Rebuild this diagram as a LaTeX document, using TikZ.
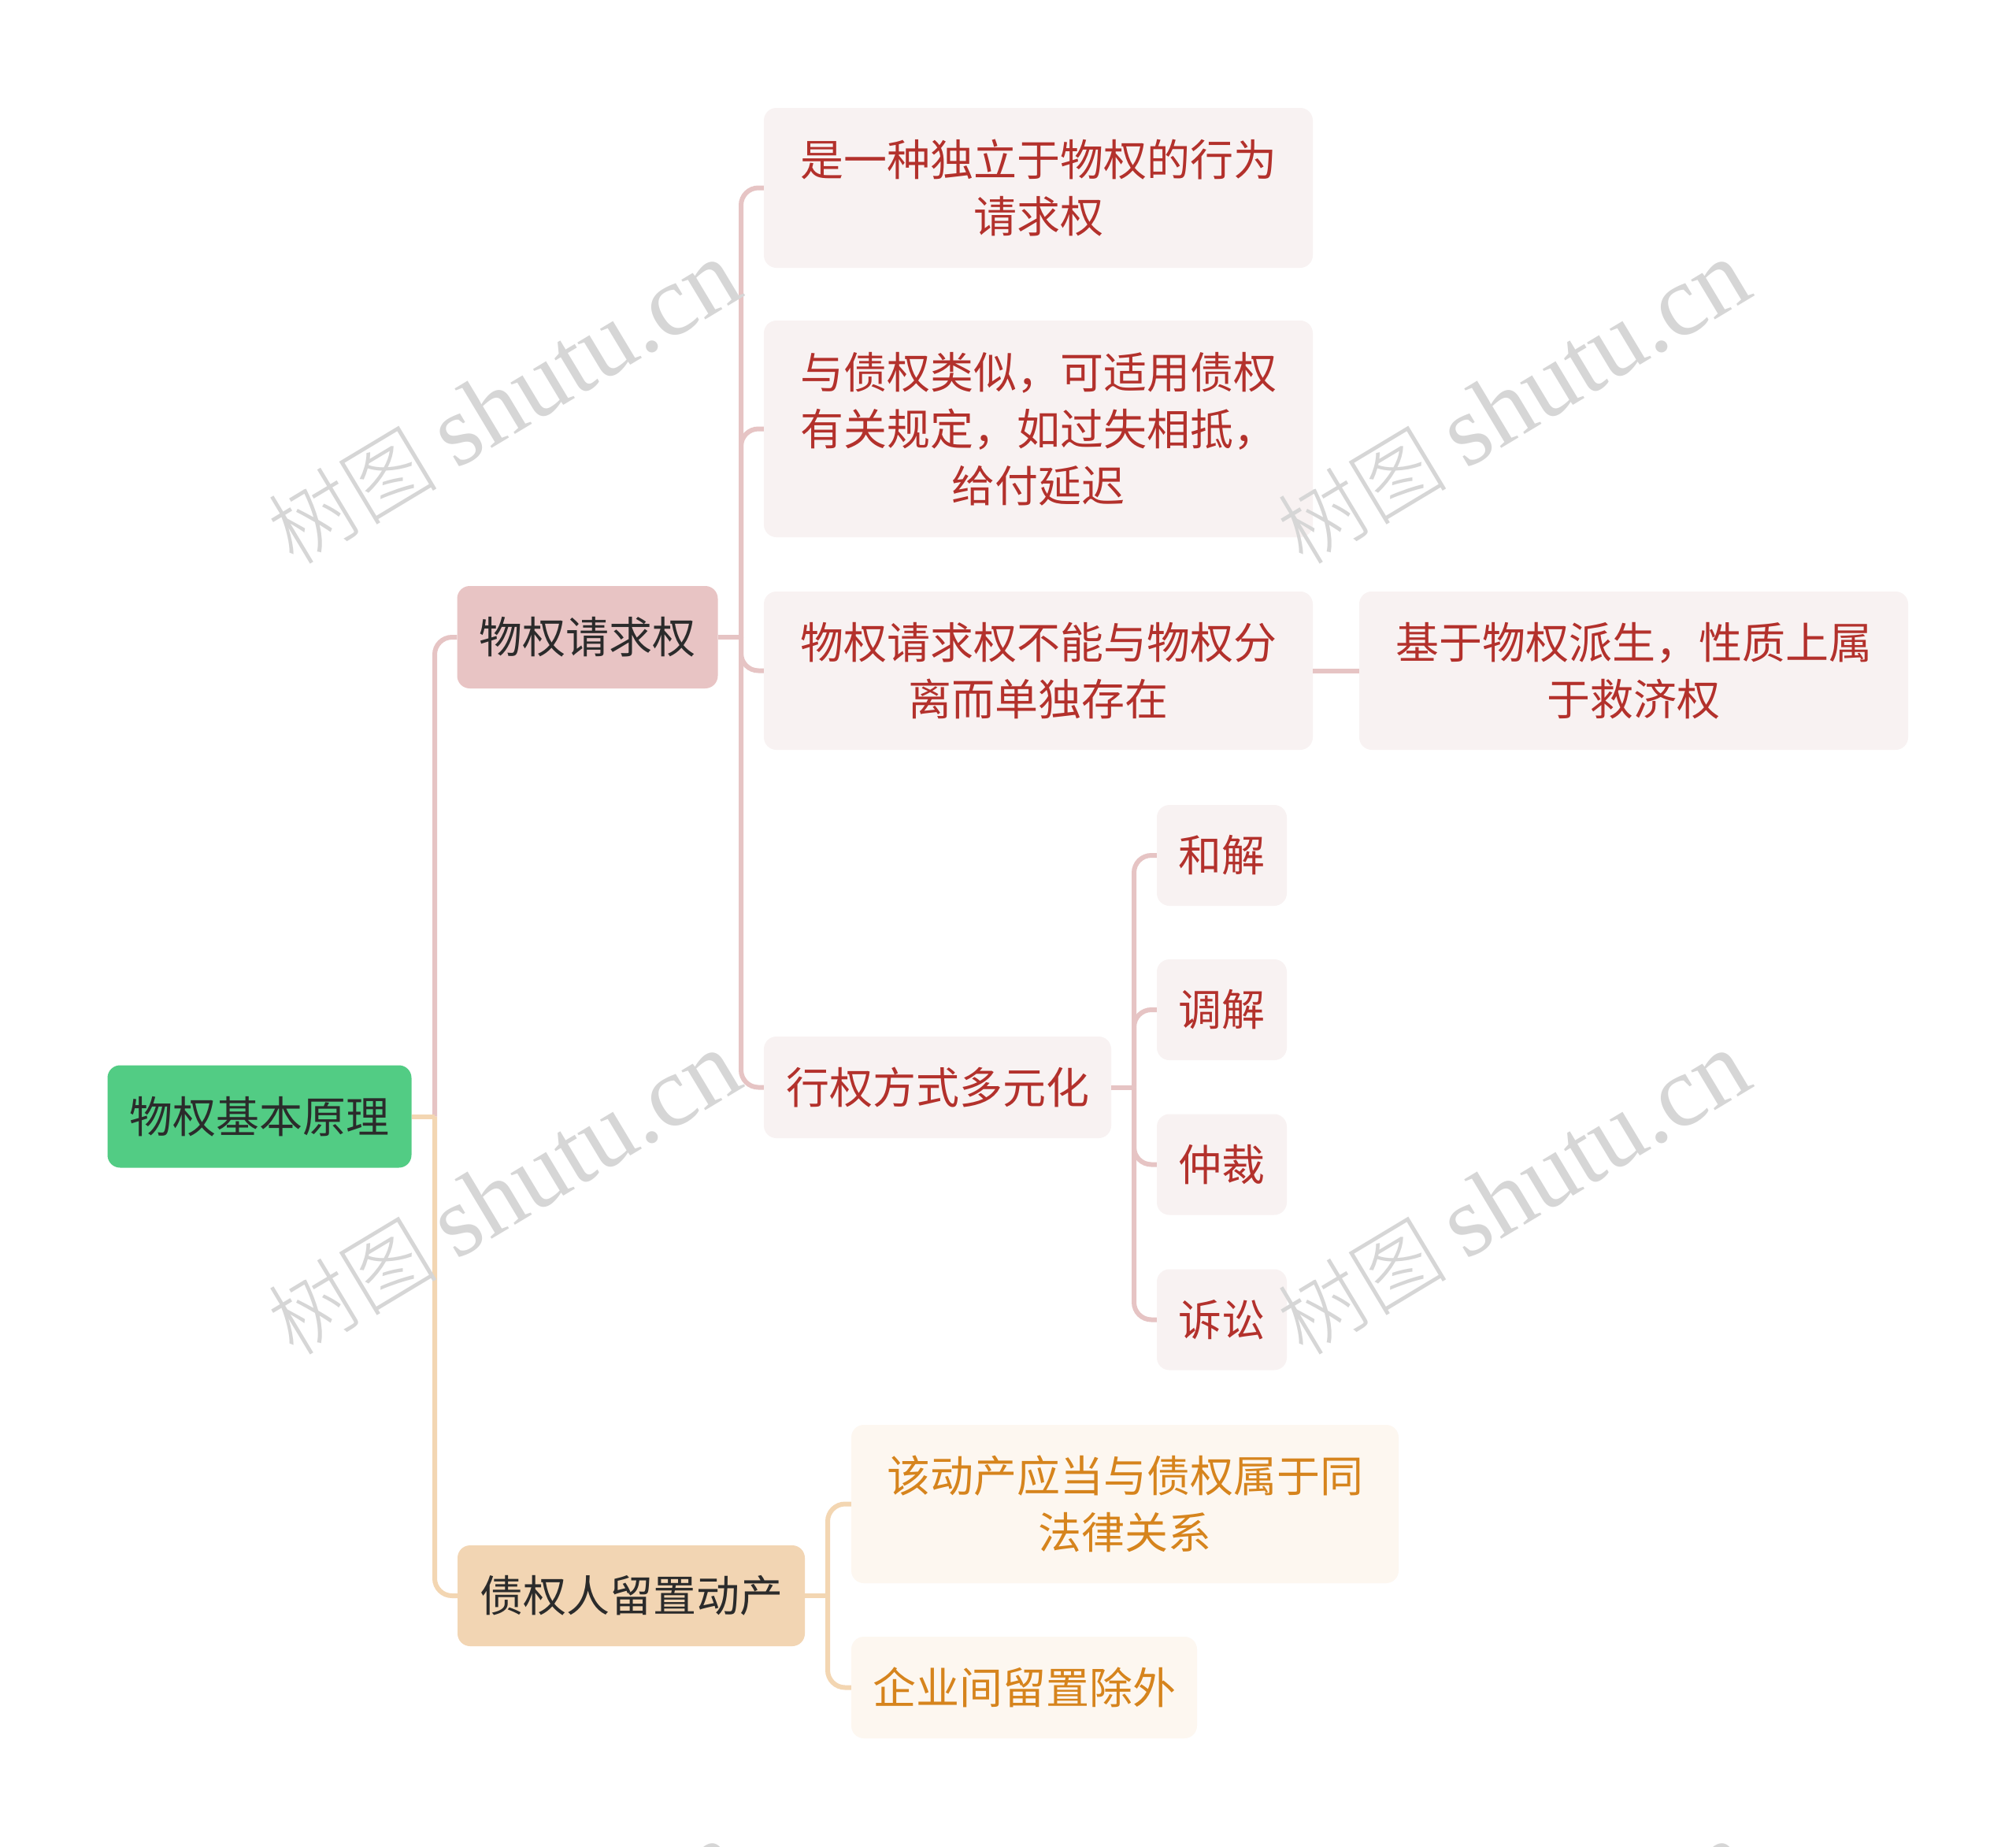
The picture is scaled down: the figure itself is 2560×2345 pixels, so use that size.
\documentclass[tikz,border=0pt]{standalone}
\usepackage{fontspec}
\setmainfont{Noto Sans CJK SC}
\newfontfamily\wmlatin{Liberation Serif}
\newfontfamily\wmcjk{Noto Sans CJK SC Light}
\definecolor{rootfill}{HTML}{52CC84}
\definecolor{darktext}{HTML}{2B2B2B}
\definecolor{pinkfill}{HTML}{E8C4C4}
\definecolor{orangefill}{HTML}{F2D5B3}
\definecolor{pinkleaf}{HTML}{F8F2F2}
\definecolor{orangeleaf}{HTML}{FDF7F0}
\definecolor{pinktext}{HTML}{B3312C}
\definecolor{orangetext}{HTML}{D6841D}
\definecolor{pinkline}{HTML}{E6C4C4}
\definecolor{orangeline}{HTML}{F3D6B2}
\definecolor{wmgray}{HTML}{D6D6D6}
\begin{document}
\begin{tikzpicture}[x=1pt,y=-1pt,
  box/.style={rectangle, rounded corners=16pt, inner sep=0pt, align=center,
    font=\fontsize{55}{72}\selectfont},
  rootbox/.style={box, fill=rootfill, text=darktext},
  pinkmain/.style={box, fill=pinkfill, text=darktext},
  orangemain/.style={box, fill=orangefill, text=darktext},
  pinkbox/.style={box, fill=pinkleaf, text=pinktext},
  orangebox/.style={box, fill=orangeleaf, text=orangetext},
  plink/.style={draw=pinkline, line width=6pt},
  olink/.style={draw=orangeline, line width=6pt},
  wm/.style={text=wmgray, inner sep=0pt, rotate=31}
]
\useasboundingbox (0,0) rectangle (2560,2345);
\fill[white] (0,0) rectangle (2560,2345);

% nodes
\node[rootbox, minimum width=386pt, minimum height=130pt] (root) at (329.5,1417.5) {物权基本原理};
\node[pinkmain, minimum width=331pt, minimum height=130pt] (qq) at (746,809) {物权请求权};
\node[orangemain, minimum width=441pt, minimum height=128pt] (zq) at (801.5,2026) {债权人留置动产};

\node[pinkbox, minimum width=697pt, minimum height=203pt] (a1) at (1318.5,238.5) {是一种独立于物权的行为\\请求权};
\node[pinkbox, minimum width=697pt, minimum height=275pt] (a2) at (1318.5,544.5) {与债权类似，可适用债权\\有关规定，如过失相抵，\\给付延迟};
\node[pinkbox, minimum width=697pt, minimum height=201pt] (a3) at (1318.5,851.5) {物权请求权不能与物权分\\离而单独存在};
\node[pinkbox, minimum width=441pt, minimum height=129pt] (a4) at (1190.5,1380.5) {行权方式多元化};
\node[pinkbox, minimum width=697pt, minimum height=201pt] (b1) at (2074.5,851.5) {基于物权派生，性质上属\\于救济权};

\node[pinkbox, minimum width=165pt, minimum height=128pt] (c1) at (1551.5,1086) {和解};
\node[pinkbox, minimum width=165pt, minimum height=128pt] (c2) at (1551.5,1282) {调解};
\node[pinkbox, minimum width=165pt, minimum height=128pt] (c3) at (1551.5,1478.5) {仲裁};
\node[pinkbox, minimum width=165pt, minimum height=128pt] (c4) at (1551.5,1675.5) {诉讼};

\node[orangebox, minimum width=695pt, minimum height=201pt] (d1) at (1428.5,1909.5) {该动产应当与债权属于同\\法律关系};
\node[orangebox, minimum width=439pt, minimum height=129pt] (d2) at (1300.5,2142.5) {企业间留置除外};

% connectors
\coordinate (j0) at (552,1417.5);
\coordinate (j1) at (941,809);
\coordinate (j2) at (1440,1380.5);
\coordinate (j3) at (1051,2026);

\draw[plink, rounded corners=22pt] (j0) |- (qq.west);
\draw[olink, rounded corners=22pt] (j0) |- (zq.west);
\draw[olink] (root.east) -- (j0);

\draw[plink] (qq.east) -- (j1);
\draw[plink, rounded corners=22pt] (j1) |- (a1.west);
\draw[plink, rounded corners=22pt] (j1) |- (a2.west);
\draw[plink, rounded corners=22pt] (j1) |- (a3.west);
\draw[plink, rounded corners=22pt] (j1) |- (a4.west);

\draw[plink] (a3.east) -- (b1.west);

\draw[plink] (a4.east) -- (j2);
\draw[plink, rounded corners=22pt] (j2) |- (c1.west);
\draw[plink, rounded corners=22pt] (j2) |- (c2.west);
\draw[plink, rounded corners=22pt] (j2) |- (c3.west);
\draw[plink, rounded corners=22pt] (j2) |- (c4.west);

\draw[olink] (zq.east) -- (j3);
\draw[olink, rounded corners=22pt] (j3) |- (d1.west);
\draw[olink, rounded corners=22pt] (j3) |- (d2.west);

% watermarks
\newcommand{\wmtext}{{\wmcjk\fontsize{108}{108}\selectfont 树图}\hspace{24pt}{\wmlatin\fontsize{128}{128}\selectfont shutu.cn}}
\begin{scope}
\clip (0,0) rectangle (2560,2345);
\node[wm] (wm1) at (640,512) {\wmtext};
\node[wm] (wm2) at (1922,512) {\wmtext};
\node[wm] (wm3) at (640,1516) {\wmtext};
\node[wm] (wm4) at (1922,1516) {\wmtext};
\node[wm] (wm5) at (640,2520) {\wmtext};
\node[wm] (wm6) at (1922,2520) {\wmtext};
\end{scope}
\end{tikzpicture}
\end{document}
